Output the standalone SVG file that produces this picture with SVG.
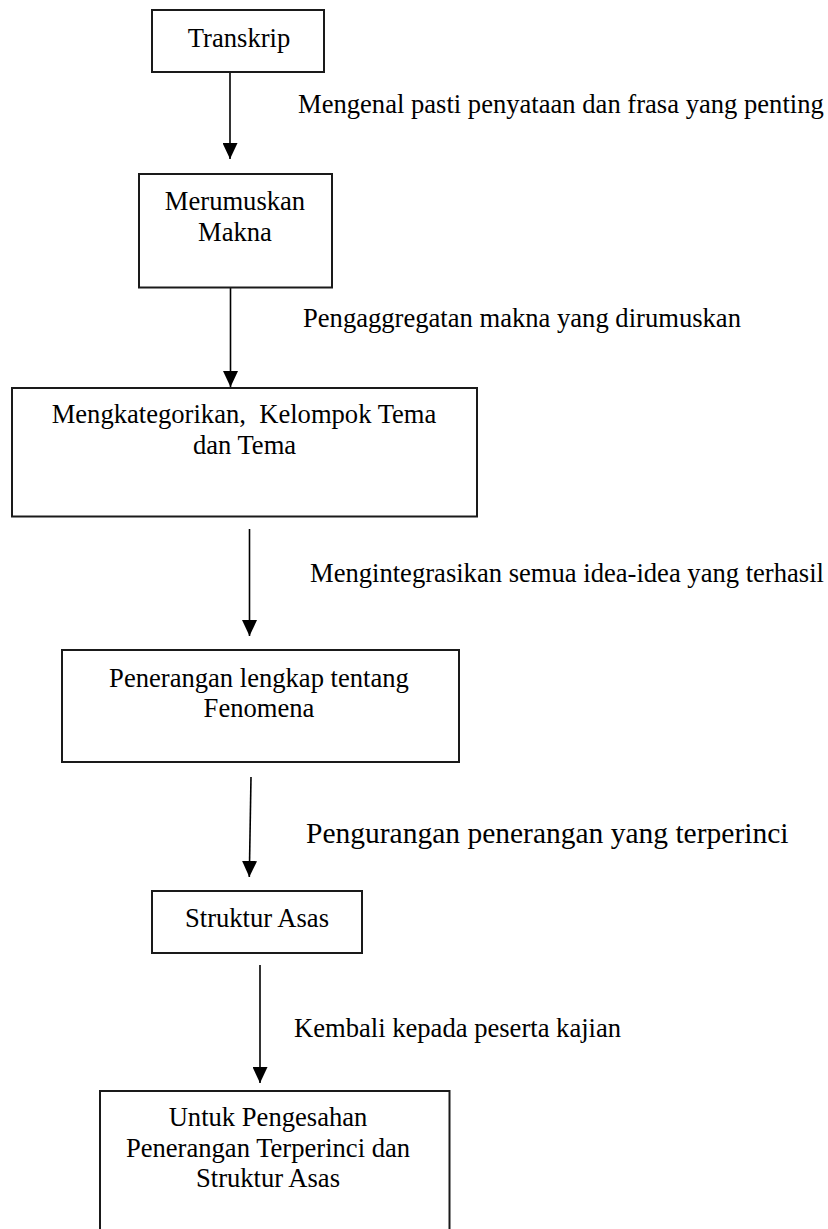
<svg xmlns="http://www.w3.org/2000/svg" width="828" height="1229" viewBox="0 0 828 1229">
  <style>
    .box { fill: #ffffff; stroke: #1a1a1a; stroke-width: 2; }
    .t { font-family: 'Liberation Serif', Tinos, 'Times New Roman', 'DejaVu Serif', serif; font-size: 26.6px; fill: #000000; }
    .c { text-anchor: middle; }
    .edge { stroke: #000000; stroke-width: 1.6; fill: none; marker-end: url(#arrow); }
  </style>
  <defs>
    <marker id="arrow" viewBox="0 0 16 15" refX="16" refY="7.5" markerWidth="16" markerHeight="15" markerUnits="userSpaceOnUse" orient="auto">
      <path d="M0,0 L16,7.5 L0,15 Z" fill="#000000"/>
    </marker>
  </defs>
  <rect width="828" height="1229" fill="#ffffff"/>

  <g id="connectors">
    <line class="edge" x1="230" y1="72" x2="230" y2="159"/>
    <line class="edge" x1="230.5" y1="288" x2="230.5" y2="387"/>
    <line class="edge" x1="249.5" y1="529" x2="249.5" y2="636"/>
    <line class="edge" x1="251" y1="777" x2="249.3" y2="877"/>
    <line class="edge" x1="260" y1="965" x2="260" y2="1083"/>
  </g>

  <g id="labels">
    <text class="t" x="298" y="113">Mengenal pasti penyataan dan frasa yang penting</text>
    <text class="t" x="303" y="327">Pengaggregatan makna yang dirumuskan</text>
    <text class="t" x="310" y="582">Mengintegrasikan semua idea-idea yang terhasil</text>
    <text class="t" x="306" y="843" style="font-size:29.5px">Pengurangan penerangan yang terperinci</text>
    <text class="t" x="294" y="1037">Kembali kepada peserta kajian</text>
  </g>

  <g id="node-transkrip">
    <rect class="box" x="152" y="10" width="172" height="62"/>
    <text class="t c" x="239" y="46.5">Transkrip</text>
  </g>

  <g id="node-merumuskan">
    <rect class="box" x="139" y="174" width="193" height="113.5"/>
    <text class="t c" x="235" y="210">Merumuskan</text>
    <text class="t c" x="235" y="240.5">Makna</text>
  </g>

  <g id="node-mengkategorikan">
    <rect class="box" x="12" y="388" width="465" height="128.5"/>
    <text class="t c" x="244" y="423" xml:space="preserve">Mengkategorikan,  Kelompok Tema</text>
    <text class="t c" x="244.5" y="454">dan Tema</text>
  </g>

  <g id="node-penerangan">
    <rect class="box" x="62" y="650" width="397" height="112"/>
    <text class="t c" x="259" y="687">Penerangan lengkap tentang</text>
    <text class="t c" x="259" y="717">Fenomena</text>
  </g>

  <g id="node-struktur">
    <rect class="box" x="152" y="891" width="210" height="62"/>
    <text class="t c" x="257" y="927">Struktur Asas</text>
  </g>

  <g id="node-pengesahan">
    <rect class="box" x="100" y="1091" width="349.5" height="150"/>
    <text class="t c" x="268" y="1126">Untuk Pengesahan</text>
    <text class="t c" x="268" y="1157">Penerangan Terperinci dan</text>
    <text class="t c" x="268" y="1187">Struktur Asas</text>
  </g>
</svg>
